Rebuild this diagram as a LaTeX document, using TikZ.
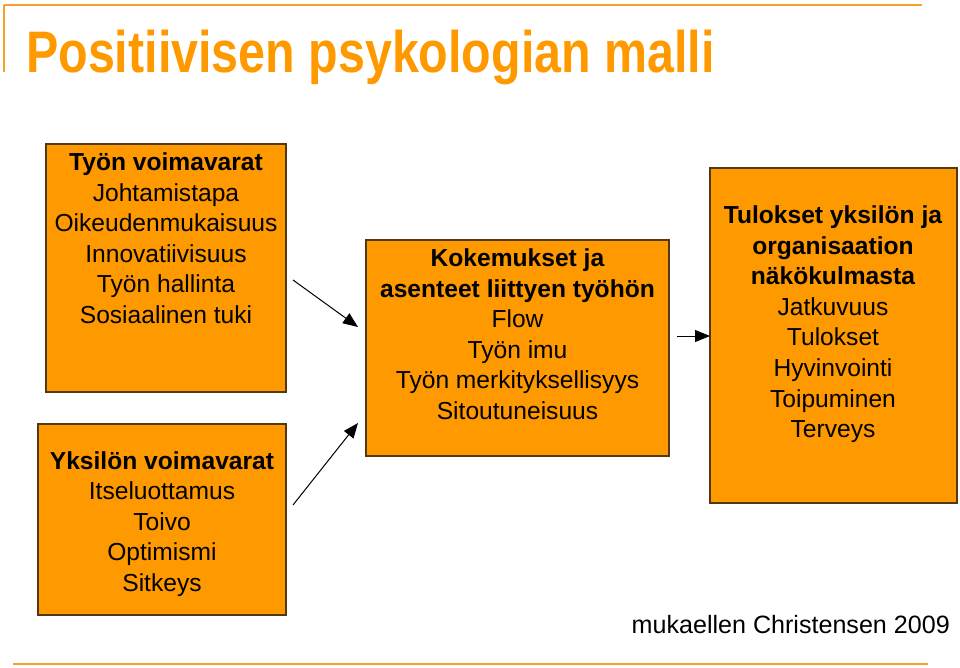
\documentclass[tikz,border=0pt]{standalone}
\usepackage{fontspec}
\usepackage{graphicx}
\setmainfont{Liberation Sans}
\usetikzlibrary{arrows.meta}
\definecolor{boxorange}{RGB}{255,153,0}
\definecolor{titleorange}{RGB}{255,153,0}
\definecolor{lineorange}{RGB}{244,162,44}
\definecolor{boxborder}{RGB}{84,56,20}
\begin{document}
\begin{tikzpicture}[x=1pt,y=-1pt,
  box/.style={draw=boxborder, line width=1.4pt, fill=boxorange, inner sep=0pt, outer sep=0pt, anchor=north west},
  boxtext/.style={inner sep=0pt, align=center, anchor=base, text=black, font=\fontsize{24.6}{30.6}\selectfont},
  conn/.style={draw=black, line width=1pt, -{Triangle[length=15pt,width=12pt]}},
  deco/.style={draw=lineorange, line width=2.5pt}]
\useasboundingbox (0,0) rectangle (960,667);
% decorative lines
\coordinate (tl) at (4,5);
\coordinate (tr) at (922,5);
\coordinate (tv) at (4,72);
\coordinate (bl) at (13,664);
\coordinate (br) at (928,664);
\draw[deco] (tr) -- (tl);
\draw[draw=lineorange, line width=1.5pt] (tl) -- (tv);
\draw[deco] (bl) -- (br);
% title
\node[anchor=base west, inner sep=0pt, text=titleorange, font=\fontsize{58.6}{60}\selectfont\bfseries] (title) at (26,72.7) {\scalebox{0.826}[1]{Positiivisen psykologian malli}};
% boxes
\node[box, minimum width=240pt, minimum height=248pt] (tyon) at (46,144) {};
\node[box, minimum width=248pt, minimum height=191pt] (yks) at (38,424) {};
\node[box, minimum width=303pt, minimum height=216pt] (kok) at (366,240) {};
\node[box, minimum width=247pt, minimum height=335pt] (tul) at (710,168) {};
% texts (anchor = baseline of the last line)
\node[boxtext] (tyontxt) at (166,323.5) {\textbf{Työn voimavarat}\\Johtamistapa\\Oikeudenmukaisuus\\Innovatiivisuus\\Työn hallinta\\Sosiaalinen tuki};
\node[boxtext] (ykstxt) at (162,591.5) {\textbf{Yksilön voimavarat}\\Itseluottamus\\Toivo\\Optimismi\\Sitkeys};
\node[boxtext] (koktxt) at (517.5,419.5) {\textbf{Kokemukset ja}\\\textbf{asenteet liittyen työhön}\\Flow\\Työn imu\\Työn merkityksellisyys\\Sitoutuneisuus};
\node[boxtext] (tultxt) at (833,437.7) {\textbf{Tulokset yksilön ja}\\\textbf{organisaation}\\\textbf{näkökulmasta}\\Jatkuvuus\\Tulokset\\Hyvinvointi\\Toipuminen\\Terveys};
% source
\node[anchor=base west, inner sep=0pt, font=\fontsize{25.1}{28}\selectfont] (src) at (631.5,633) {mukaellen Christensen 2009};
% connectors
\coordinate (a1s) at (293,280);
\coordinate (a1e) at (358,327);
\coordinate (a2s) at (293,505);
\coordinate (a2e) at (358,423);
\coordinate (a3s) at (677,336);
\draw[conn] (a1s) -- (a1e);
\draw[conn] (a2s) -- (a2e);
\draw[conn] (a3s) -- (tul.west |- a3s);
\end{tikzpicture}
\end{document}
